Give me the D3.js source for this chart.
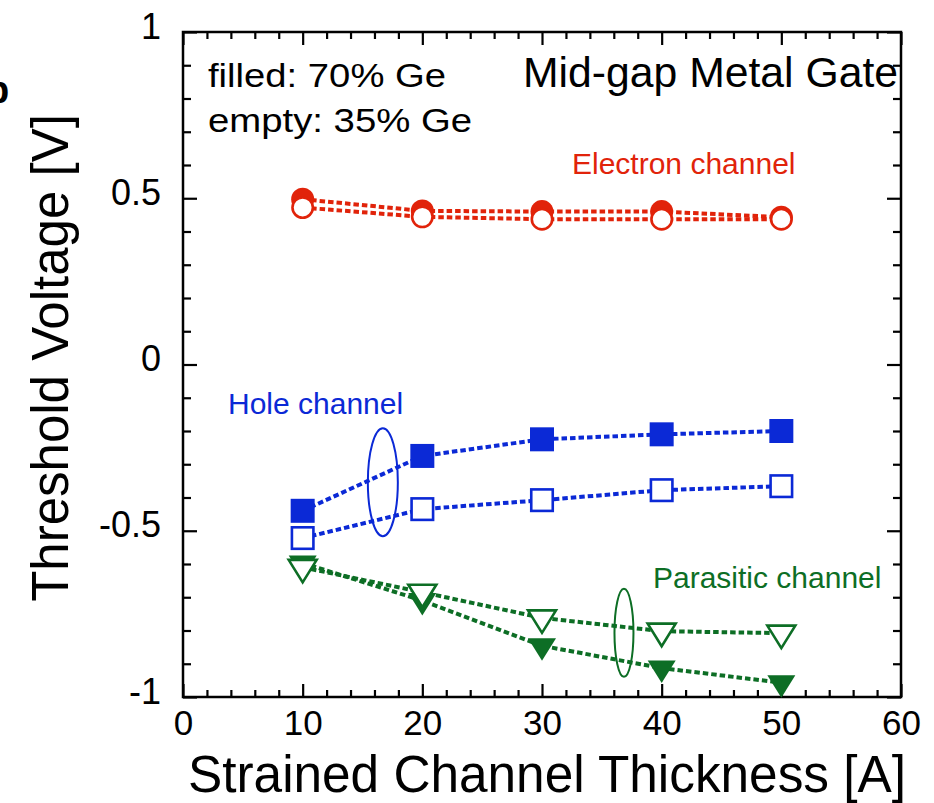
<!DOCTYPE html>
<html>
<head>
<meta charset="utf-8">
<script src="https://cdn.jsdelivr.net/npm/d3@7"></script>
<style>
  body { margin: 0; background: #fff; }
  svg { display: block; font-family: "Liberation Sans", Arial, sans-serif; }
</style>
</head>
<body>
<div id="chart"></div>
<script>
// data
const thickness = [10, 20, 30, 40, 50];
const electron70 = [0.497, 0.462, 0.46, 0.46, 0.443];
const electron35 = [0.472, 0.444, 0.437, 0.437, 0.437];
const hole70 = [-0.44, -0.275, -0.225, -0.21, -0.2];
const hole35 = [-0.522, -0.435, -0.408, -0.378, -0.366];
const parasitic70 = [-0.597, -0.71, -0.846, -0.913, -0.957];
const parasitic35 = [-0.61, -0.685, -0.762, -0.802, -0.808];
const xTicks = [0, 10, 20, 30, 40, 50, 60];
const yTicks = [-1, -0.5, 0, 0.5, 1];
const yTickLabels = ['-1', '-0.5', '0', '0.5', '1'];

const RED = '#e1230a', BLUE = '#0b29d6', GREEN = '#0d6e25';

const W = 934, H = 803;
const margin = { top: 32, right: 33, bottom: 106, left: 183 };
const width = W - margin.left - margin.right;
const height = H - margin.top - margin.bottom;

const svg = d3.select('#chart').append('svg')
  .attr('width', W)
  .attr('height', H);

const g = svg.append('g')
  .attr('transform', `translate(${margin.left},${margin.top})`);

const x = d3.scaleLinear().domain([0, 60]).range([0, width]);
const y = d3.scaleLinear().domain([-1, 1]).range([height, 0]);

const minorX = d3.range(0, 61, 2).filter(v => v % 10 !== 0);
const minorY = d3.range(-10, 11).map(v => v / 10).filter(v => Math.abs(v * 2 - Math.round(v * 2)) > 1e-6);

function styleAxis(sel) {
  sel.select('.domain').remove();
  sel.selectAll('line').attr('stroke', '#000').attr('stroke-width', 2.2);
  sel.selectAll('text').attr('fill', '#000');
}

// Bottom axis
g.append('g')
  .attr('transform', `translate(0,${height})`)
  .call(d3.axisBottom(x).tickValues(xTicks).tickSizeInner(-13).tickSizeOuter(0).tickPadding(13).tickFormat(d3.format('d')))
  .call(styleAxis)
  .call(s => s.selectAll('text').style('font-size', '35px').attr('dy', '0.71em'));
g.append('g')
  .attr('transform', `translate(0,${height})`)
  .call(d3.axisBottom(x).tickValues(minorX).tickSizeInner(-7).tickSizeOuter(0).tickFormat(''))
  .call(styleAxis);

// Top axis
g.append('g')
  .call(d3.axisTop(x).tickValues(xTicks).tickSizeInner(-13).tickSizeOuter(0).tickFormat(''))
  .call(styleAxis);
g.append('g')
  .call(d3.axisTop(x).tickValues(minorX).tickSizeInner(-7).tickSizeOuter(0).tickFormat(''))
  .call(styleAxis);

// Left axis
g.append('g')
  .call(d3.axisLeft(y).tickValues(yTicks).tickSizeInner(-14).tickSizeOuter(0).tickPadding(22)
    .tickFormat((d, i) => yTickLabels[i]))
  .call(styleAxis)
  .call(s => s.selectAll('text').style('font-size', '36px').attr('dy', '6'));
g.append('g')
  .call(d3.axisLeft(y).tickValues(minorY).tickSizeInner(-8).tickSizeOuter(0).tickFormat(''))
  .call(styleAxis);

// Right axis
g.append('g')
  .attr('transform', `translate(${width},0)`)
  .call(d3.axisRight(y).tickValues(yTicks).tickSizeInner(-14).tickSizeOuter(0).tickFormat(''))
  .call(styleAxis);
g.append('g')
  .attr('transform', `translate(${width},0)`)
  .call(d3.axisRight(y).tickValues(minorY).tickSizeInner(-8).tickSizeOuter(0).tickFormat(''))
  .call(styleAxis);

// Frame
g.append('rect')
  .attr('width', width)
  .attr('height', height)
  .attr('fill', 'none')
  .attr('stroke', '#000')
  .attr('stroke-width', 2.5);

// Series
const series = [
  { vals: electron70, color: RED, shape: 'circle', filled: true },
  { vals: electron35, color: RED, shape: 'circle', filled: false },
  { vals: hole70, color: BLUE, shape: 'square', filled: true },
  { vals: hole35, color: BLUE, shape: 'square', filled: false },
  { vals: parasitic70, color: GREEN, shape: 'triangle', filled: true },
  { vals: parasitic35, color: GREEN, shape: 'triangle', filled: false }
];

const line = d3.line()
  .x(d => x(d[0]))
  .y(d => y(d[1]));

series.forEach(s => {
  const pts = thickness.map((t, i) => [t, s.vals[i]]);
  g.append('path')
    .datum(pts)
    .attr('d', line)
    .attr('fill', 'none')
    .attr('stroke', s.color)
    .attr('stroke-width', 4)
    .attr('stroke-dasharray', '5.5,3');
});

const triPath = 'M-14,-7.5 L14,-7.5 L0,15 Z';

series.forEach(s => {
  const pts = thickness.map((t, i) => [t, s.vals[i]]);
  const mk = g.append('g').selectAll('.mk')
    .data(pts)
    .enter();
  let m;
  if (s.shape === 'circle') {
    m = mk.append('circle')
      .attr('cx', d => x(d[0]))
      .attr('cy', d => y(d[1]))
      .attr('r', s.filled ? 11.5 : 10.2);
  } else if (s.shape === 'square') {
    const sz = s.filled ? 24 : 21.5;
    m = mk.append('rect')
      .attr('x', d => x(d[0]) - sz / 2)
      .attr('y', d => y(d[1]) - sz / 2)
      .attr('width', sz)
      .attr('height', sz);
  } else {
    m = mk.append('path')
      .attr('d', triPath)
      .attr('transform', d => `translate(${x(d[0])},${y(d[1])})`);
  }
  m.attr('fill', s.filled ? s.color : '#fff')
    .attr('stroke', s.color)
    .attr('stroke-width', s.filled ? 0 : 2.6);
});

// Group ellipses
g.append('ellipse')
  .attr('cx', x(16.7)).attr('cy', y(-0.354))
  .attr('rx', 15).attr('ry', 54)
  .attr('fill', 'none').attr('stroke', BLUE).attr('stroke-width', 2);
g.append('ellipse')
  .attr('cx', x(36.85)).attr('cy', y(-0.807))
  .attr('rx', 9.5).attr('ry', 44)
  .attr('fill', 'none').attr('stroke', GREEN).attr('stroke-width', 2);

// Annotations (absolute page coordinates)
const ann = svg.append('g');
ann.append('text').attr('x', 208).attr('y', 87)
  .attr('textLength', 238).attr('lengthAdjust', 'spacingAndGlyphs')
  .style('font-size', '33px').text('filled: 70% Ge');
ann.append('text').attr('x', 208).attr('y', 132)
  .attr('textLength', 264).attr('lengthAdjust', 'spacingAndGlyphs')
  .style('font-size', '33px').text('empty: 35% Ge');
ann.append('text').attr('x', 523).attr('y', 87)
  .attr('textLength', 375).attr('lengthAdjust', 'spacingAndGlyphs')
  .style('font-size', '43px').text('Mid-gap Metal Gate');
ann.append('text').attr('x', 572).attr('y', 174)
  .attr('fill', RED).style('font-size', '30px').text('Electron channel');
ann.append('text').attr('x', 228).attr('y', 414)
  .attr('fill', BLUE).style('font-size', '30px').text('Hole channel');
ann.append('text').attr('x', 653).attr('y', 588)
  .attr('fill', GREEN).style('font-size', '30px').text('Parasitic channel');

// partial panel letter cut at the left edge, as in the source figure
ann.append('text').attr('x', -14).attr('y', 103)
  .style('font-size', '38px').style('font-weight', 'bold').text('b');

// Axis titles
svg.append('text')
  .attr('x', 547).attr('y', 792)
  .attr('text-anchor', 'middle')
  .attr('textLength', 718).attr('lengthAdjust', 'spacingAndGlyphs')
  .style('font-size', '51px')
  .text('Strained Channel Thickness [A]');
svg.append('text')
  .attr('transform', 'translate(68,358) rotate(-90)')
  .attr('text-anchor', 'middle')
  .style('font-size', '51px')
  .text('Threshold Voltage [V]');
</script>
</body>
</html>
